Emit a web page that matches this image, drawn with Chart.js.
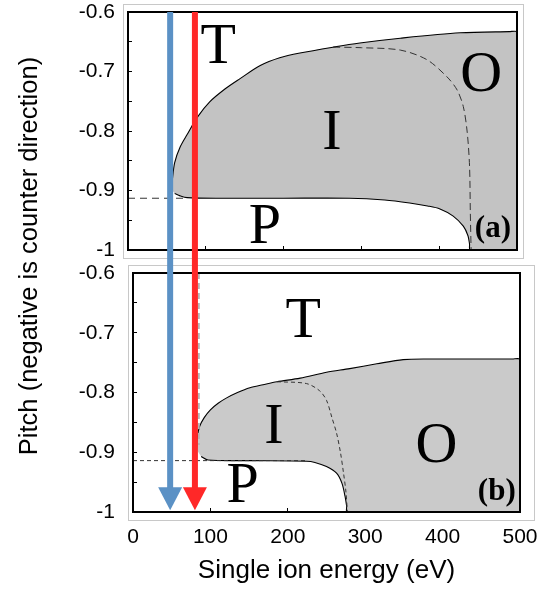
<!DOCTYPE html>
<html><head><meta charset="utf-8">
<script src="https://cdn.jsdelivr.net/npm/chart.js@4.4.0/dist/chart.umd.min.js"></script>
<style>
html,body{margin:0;padding:0;background:#fff;}
#wrap{position:relative;width:543px;height:590px;overflow:hidden;background:#fff;}
#wrap canvas{position:absolute;left:0;top:0;}
#ytitle{position:absolute;left:-222px;top:241px;width:500px;height:30px;line-height:30px;text-align:center;
  font-family:'Liberation Sans',Arial,sans-serif;font-size:25.5px;color:#000;transform:rotate(-90deg);transform-origin:50% 50%;white-space:nowrap;}
</style></head>
<body>
<div id="wrap">
<canvas id="cA" width="543" height="590"></canvas>
<canvas id="cB" width="543" height="590"></canvas>
<div id="ytitle">Pitch (negative is counter direction)</div>
</div>
<script>
// ---------- axis ticks ----------
const energyTicks = [0, 100, 200, 300, 400, 500];
const pitchTicks = [-1, -0.9, -0.8, -0.7, -0.6];
const pitchMinorTicks = [-0.95, -0.85, -0.75, -0.65];

// ---------- panel (a) ----------
const aRegionE = [56, 57, 60, 67, 76, 89, 105, 125, 144, 170, 195, 221, 264, 298, 350, 427, 490, 500,
                  500, 500, 440, 439, 437, 431, 418, 401, 385, 362, 330, 285, 200, 120, 76, 67, 60];
const aRegionP = [-0.898, -0.882, -0.853, -0.827, -0.806, -0.777, -0.751, -0.729, -0.712, -0.690, -0.677, -0.669, -0.659, -0.652, -0.644, -0.635, -0.633, -0.633,
                  -0.645, -1, -1, -0.99, -0.976, -0.96, -0.943, -0.931, -0.926, -0.921, -0.916, -0.913, -0.913, -0.913, -0.912, -0.909, -0.905];
const aDashIOE = [264, 300, 350, 384, 410, 423, 431, 436, 439, 440, 441];
const aDashIOP = [-0.659, -0.660, -0.664, -0.680, -0.709, -0.731, -0.759, -0.802, -0.859, -0.936, -1];
const aDashHE = [0, 75];
const aDashHP = [-0.913, -0.913];
const aLabelText = ['T', 'I', 'O', 'P', '(a)'];
const aLabelE = [116, 262, 454, 176, 469];
const aLabelP = [-0.660, -0.804, -0.707, -0.963, -0.9645];

// ---------- panel (b) ----------
const bRegionE = [82, 83, 86, 92, 100, 110, 121, 135, 151, 168, 186, 216, 250, 280, 315, 349, 380, 490, 500,
                  500, 500, 277, 276, 274, 270, 263, 250, 235, 224, 150, 97, 88];
const bRegionP = [-0.895, -0.875, -0.857, -0.842, -0.829, -0.818, -0.809, -0.800, -0.792, -0.787, -0.782, -0.776, -0.766, -0.760, -0.752, -0.745, -0.744, -0.744, -0.744,
                  -0.755, -1, -1, -0.99, -0.974, -0.952, -0.935, -0.924, -0.917, -0.915, -0.914, -0.913, -0.907];
const bDashIOE = [186, 224, 241, 250, 257, 263, 268, 272, 275, 277];
const bDashIOP = [-0.782, -0.785, -0.797, -0.813, -0.842, -0.868, -0.900, -0.935, -0.965, -1];
const bDashHE = [0, 224];
const bDashHP = [-0.914, -0.914];
const bDashVE = [85, 85];
const bDashVP = [-0.6, -0.888];
const bLabelText = ['T', 'I', 'O', 'P', '(b)'];
const bLabelE = [220, 182, 392, 141.5, 470];
const bLabelP = [-0.682, -0.859, -0.891, -0.957, -0.966];

// ---------- arrows ----------
const arrowEnergy = [48, 80];
const arrowTipPitch = -0.997;

// ---------- styles ----------
const SANS = "'Liberation Sans', Arial, Helvetica, sans-serif";
const SERIF = "'Liberation Serif', 'Times New Roman', serif";
const arrowColors = ['#5b91c5', '#ff2828'];
const labelFonts = ['58px ' + SERIF, '58px ' + SERIF, '58px ' + SERIF, '58px ' + SERIF, 'bold 31px ' + SERIF];

Chart.defaults.font.family = SANS;

function pts(xs, ys) { return xs.map((x, i) => ({x: x, y: ys[i]})); }
const pitchAll = pitchTicks.concat(pitchMinorTicks).sort((a, b) => a - b);

function framePlugin(outer) {
  return {
    id: 'frame',
    beforeDraw(chart) {
      const {ctx, chartArea: a} = chart;
      ctx.save();
      ctx.strokeStyle = '#c8c8c8';
      ctx.lineWidth = 1;
      const l = Math.round(a.left - outer[0]) + 0.5, t = Math.round(a.top - outer[1]) + 0.5;
      const r = Math.round(a.right + outer[2]) + 0.5, b = Math.round(a.bottom + outer[3]) + 0.5;
      ctx.strokeRect(l, t, r - l, b - t);
      ctx.restore();
    },
    afterDatasetsDraw(chart) {
      const {ctx, chartArea: a} = chart;
      ctx.save();
      ctx.strokeStyle = '#000';
      ctx.lineWidth = 2;
      ctx.strokeRect(a.left, a.top, a.right - a.left, a.bottom - a.top);
      ctx.restore();
    }
  };
}

function labelPlugin(texts, es, ps) {
  return {
    id: 'regionLabels',
    afterDatasetsDraw(chart) {
      const {ctx, scales: {x, y}} = chart;
      ctx.save();
      ctx.fillStyle = '#000';
      ctx.textAlign = 'center';
      ctx.textBaseline = 'middle';
      texts.forEach((t, i) => {
        ctx.font = labelFonts[i];
        ctx.fillText(t, x.getPixelForValue(es[i]), y.getPixelForValue(ps[i]));
      });
      ctx.restore();
    }
  };
}

function lineDs(xs, ys, color, width, dash, tension) {
  return {data: pts(xs, ys), showLine: true, borderColor: color, borderWidth: width, borderDash: dash,
          pointRadius: 0, pointHoverRadius: 0, fill: false, tension: tension};
}
function regionDs(xs, ys, bg) {
  return {data: pts(xs, ys), showLine: true, borderColor: '#000', borderWidth: 1.1, backgroundColor: bg,
          fill: 'shape', pointRadius: 0, pointHoverRadius: 0, tension: 0.3};
}

function zeroPad(sc) { sc.paddingTop = 0; sc.paddingBottom = 0; sc.paddingLeft = 0; sc.paddingRight = 0; }

function xScale(showLabels, height, withTitle) {
  const s = {
    type: 'linear', min: 0, max: 500,
    afterBuildTicks: sc => { sc.ticks = energyTicks.map(v => ({value: v})); },
    afterFit: sc => { sc.height = height; zeroPad(sc); },
    ticks: {autoSkip: false, padding: 17, color: '#000', font: {size: 21, family: SANS},
            callback: v => showLabels ? String(v) : ''},
    grid: {drawOnChartArea: false, drawTicks: true, tickLength: -4, color: '#000', lineWidth: 1},
    border: {display: false}
  };
  if (withTitle) {
    s.title = {display: true, text: 'Single ion energy (eV)', color: '#000',
               font: {size: 26, family: SANS}, padding: {top: 0, bottom: 4}};
  }
  return s;
}
function yScale(width, pad) {
  return {
    type: 'linear', min: -1, max: -0.6,
    afterBuildTicks: sc => { sc.ticks = pitchAll.map(v => ({value: v})); },
    afterFit: sc => { sc.width = width; zeroPad(sc); },
    ticks: {autoSkip: false, padding: pad, color: '#000', font: {size: 21, family: SANS},
            callback: v => pitchTicks.includes(v) ? String(v) : ''},
    grid: {drawOnChartArea: false, drawTicks: true, tickLength: -4, color: '#000', lineWidth: 1},
    border: {display: false}
  };
}

const chartA = new Chart(document.getElementById('cA'), {
  type: 'scatter',
  data: {datasets: [
    lineDs(aDashHE, aDashHP, '#333', 1, [7, 5], 0),
    lineDs(aDashIOE, aDashIOP, '#333', 1, [7, 4], 0.3),
    regionDs(aRegionE, aRegionP, '#c3c3c3')
  ]},
  options: {
    responsive: false, animation: false, devicePixelRatio: 1,
    layout: {padding: {left: 0, right: 26, top: 12, bottom: 340}},
    plugins: {legend: {display: false}, tooltip: {enabled: false}},
    scales: {x: xScale(false, 0, false), y: yScale(128, 17)}
  },
  plugins: [framePlugin([5, 8, 6, 8]), labelPlugin(aLabelText, aLabelE, aLabelP)]
});

const arrowPlugin = {
  id: 'arrows',
  afterDraw(chart) {
    const {ctx, scales: {x, y}} = chart;
    const top = chartA.chartArea.top;
    const tip = y.getPixelForValue(arrowTipPitch);
    arrowEnergy.forEach((e, i) => {
      const px = x.getPixelForValue(e);
      ctx.save();
      ctx.strokeStyle = arrowColors[i];
      ctx.fillStyle = arrowColors[i];
      ctx.lineWidth = 6;
      ctx.beginPath();
      ctx.moveTo(px, top);
      ctx.lineTo(px, tip - 20);
      ctx.stroke();
      ctx.beginPath();
      ctx.moveTo(px - 12, tip - 23);
      ctx.lineTo(px + 12, tip - 23);
      ctx.lineTo(px, tip);
      ctx.closePath();
      ctx.fill();
      ctx.restore();
    });
  }
};

const chartB = new Chart(document.getElementById('cB'), {
  type: 'scatter',
  data: {datasets: [
    lineDs(bDashHE, bDashHP, '#333', 1, [4, 3], 0),
    lineDs(bDashIOE, bDashIOP, '#333', 1, [4, 3], 0.3),
    lineDs(bDashVE, bDashVP, '#b4b4b4', 2, [6, 4], 0),
    regionDs(bRegionE, bRegionP, '#cacaca')
  ]},
  options: {
    responsive: false, animation: false, devicePixelRatio: 1,
    layout: {padding: {left: 0, right: 23, top: 273, bottom: 0}},
    plugins: {legend: {display: false}, tooltip: {enabled: false}},
    scales: {x: xScale(true, 78, true), y: yScale(133, 22)}
  },
  plugins: [framePlugin([5, 8, 14, 8]), labelPlugin(bLabelText, bLabelE, bLabelP), arrowPlugin]
});
</script>
</body></html>
